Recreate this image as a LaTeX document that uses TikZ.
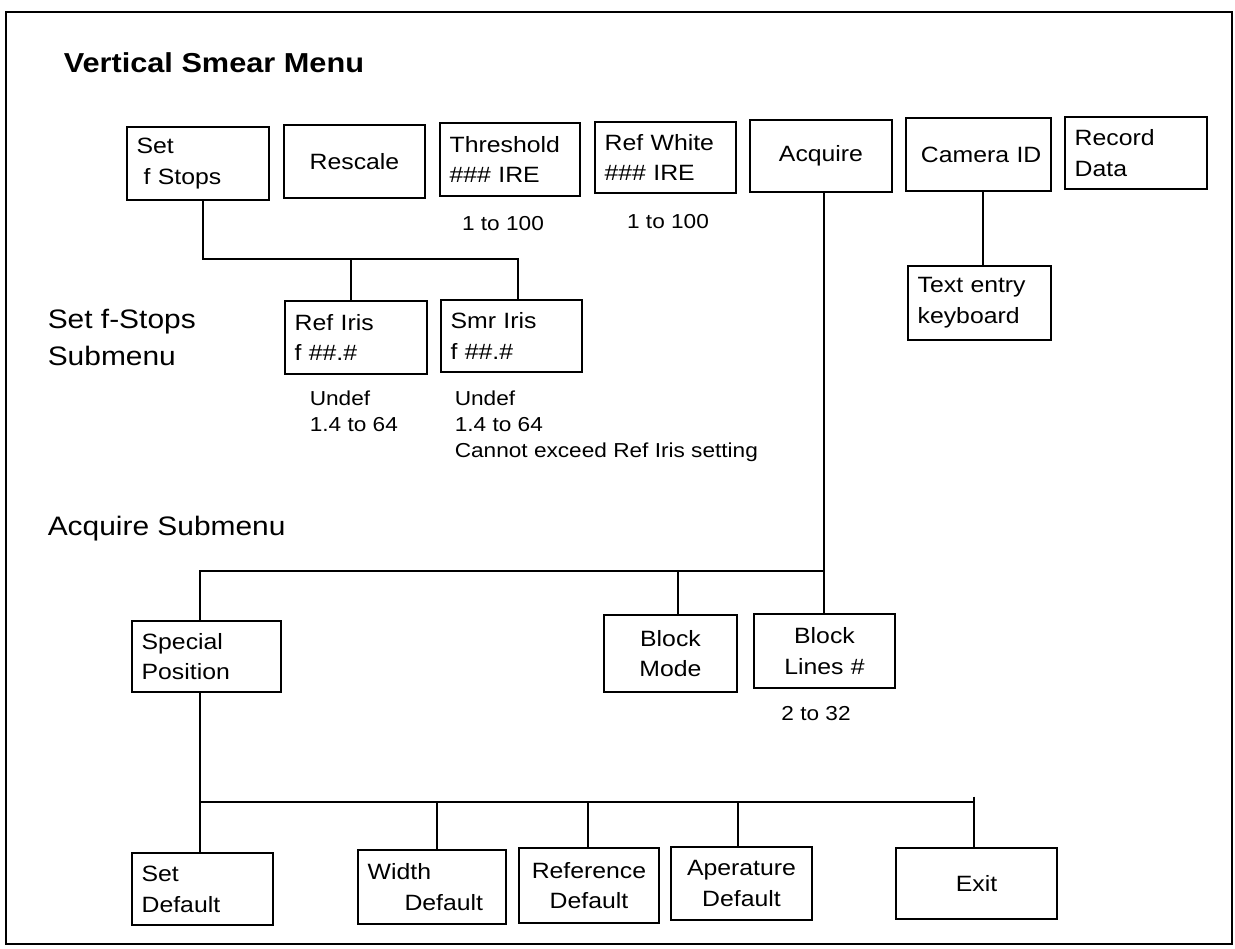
\documentclass[tikz,border=0pt]{standalone}
\usepackage{fontspec}
\setmainfont[FakeStretch=1.12]{Liberation Sans}
\begin{document}
\begin{tikzpicture}[x=0.02cm,y=-0.02cm,line width=0.9pt,
  box/.style={draw,rectangle,inner xsep=5.5pt,inner ysep=0pt,
    font=\fontsize{12.6}{17.5}\selectfont},
  note/.style={inner sep=0pt,align=left,anchor=base west,
    font=\fontsize{11.5}{14.8}\selectfont},
  side/.style={inner sep=0pt,align=left,anchor=base west,
    font=\fontsize{15.2}{21}\selectfont}]
\useasboundingbox (0,0) rectangle (1235,948);
% outer frame
\draw (6,12) rectangle (1232,944);

% a menu box from its corners: name, x1, y1, x2, y2, alignment, text
\newcommand\menubox[7]{%
  \node[box,align=#6,
    minimum width={(#4-#2)*0.02cm},
    minimum height={(#5-#3)*0.02cm},
    text width={(#4-#2)*0.02cm-11pt}] (#1) at ({(#2+#4)/2},{(#3+#5)/2}) {#7};}

\node[inner sep=0pt,anchor=base west,font=\fontsize{15.6}{19}\selectfont\bfseries]
  (title) at (63,72) {Vertical Smear Menu};

% main menu row
\menubox{setf}{127}{127}{269}{200}{left}{Set\\\hspace*{4pt}f Stops}
\menubox{rescale}{284}{125}{425}{198}{center}{Rescale}
\menubox{thresh}{440}{123}{580}{196}{left}{Threshold\\\#\#\# IRE}
\menubox{refwhite}{595}{122}{736}{193}{left}{Ref White\\\#\#\# IRE}
\menubox{acquire}{750}{120}{892}{192}{center}{Acquire}
\menubox{camid}{906}{118}{1051}{191}{right}{Camera ID}
\menubox{record}{1065}{117}{1207}{189}{left}{Record\\Data}

\node[note,anchor=base] (thnote) at (503,230) {1 to 100};
\node[note,anchor=base] (rwnote) at (668,228) {1 to 100};

% camera ID text entry
\menubox{textentry}{908}{266}{1051}{340}{left}{Text entry\\keyboard}
\coordinate (camdrop) at (983,0);
\draw (camid.south -| camdrop) -- (textentry.north -| camdrop);

% set f-stops submenu (multi-line labels sit on the baseline of their last line)
\node[side] (fstoplbl) at (47,365) {Set f-Stops\\Submenu};
\menubox{refiris}{285}{301}{427}{374}{left}{Ref Iris\\f \#\#.\#}
\menubox{smriris}{441}{300}{582}{372}{left}{Smr Iris\\f \#\#.\#}
\coordinate (fdrop) at (203,259);
\coordinate (rdrop) at (351,259);
\coordinate (sdrop) at (518,259);
\draw (setf.south -| fdrop) -- (fdrop) -- (sdrop) -- (smriris.north -| sdrop);
\draw (rdrop) -- (refiris.north -| rdrop);
\node[note] (rinote) at (309,431) {Undef\\1.4 to 64};
\node[note] (sinote) at (454,457) {Undef\\1.4 to 64\\Cannot exceed Ref Iris setting};

% acquire submenu
\node[side] (acqlbl) at (47,535) {Acquire Submenu};
\menubox{special}{132}{621}{281}{692}{left}{Special\\Position}
\menubox{blockmode}{604}{615}{737}{692}{center}{Block\\Mode}
\menubox{blocklines}{754}{614}{895}{688}{center}{Block\\Lines \#}
\node[note,anchor=base] (blnote) at (816,720) {2 to 32};
\coordinate (adrop) at (824,571);
\coordinate (pdrop) at (200,571);
\coordinate (mdrop) at (678,571);
\draw (acquire.south -| adrop) -- (adrop) -- (pdrop) -- (special.north -| pdrop);
\draw (mdrop) -- (blockmode.north -| mdrop);
\draw (adrop) -- (blocklines.north -| adrop);

% special position submenu
\menubox{setdef}{132}{853}{273}{925}{left}{Set\\Default}
\menubox{widthdef}{358}{850}{506}{924}{left}{Width\\\hspace*{21pt}Default}
\menubox{refdef}{519}{848}{659}{923}{center}{Reference\\Default}
\menubox{apdef}{671}{847}{812}{920}{center}{Aperature\\Default}
\menubox{exit}{896}{848}{1057}{919}{center}{Exit}
\coordinate (sbus) at (200,802);
\coordinate (wdrop) at (437,802);
\coordinate (rfdrop) at (588,802);
\coordinate (apdrop) at (738,802);
\coordinate (xdrop) at (974,802);
\draw (special.south -| sbus) -- (setdef.north -| sbus);
\draw (sbus) -- (xdrop);
\draw ([yshift=3]xdrop) -- (exit.north -| xdrop);
\draw (wdrop) -- (widthdef.north -| wdrop);
\draw (rfdrop) -- (refdef.north -| rfdrop);
\draw (apdrop) -- (apdef.north -| apdrop);
\end{tikzpicture}
\end{document}
